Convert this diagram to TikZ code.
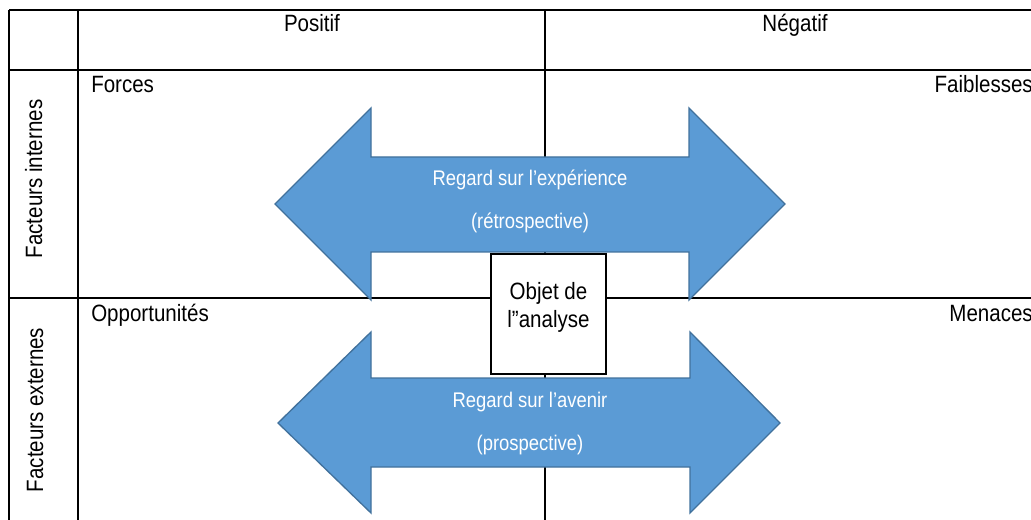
\documentclass[tikz,border=0pt]{standalone}
\usepackage{fontspec}
\setmainfont{Liberation Sans}[FakeStretch=0.87]
\definecolor{arrowfill}{HTML}{5B9BD5}
\definecolor{arrowline}{HTML}{41719C}
\begin{document}
\begin{tikzpicture}[x=0.75pt,y=-0.75pt,
  grid/.style={line width=0.8pt,black},
  bigarrow/.style={fill=arrowfill,draw=arrowline,line width=1pt,line join=miter},
  lbl/.style={font=\fontsize{17.7}{21}\selectfont,inner sep=0pt},
  alabel/.style={font=\fontsize{15.9}{19}\selectfont,text=white,inner sep=0pt,anchor=base},
  objbox/.style={draw=black,fill=white,line width=0.9pt,minimum width=115*0.75pt,minimum height=120*0.75pt,inner sep=0pt}]
\useasboundingbox (0,0) rectangle (1031,520);
% table grid
\draw[grid] (9,10) -- (1031,10);
\draw[grid] (9,70) -- (1031,70);
\draw[grid] (9,298) -- (1031,298);
\draw[grid] (9,10) -- (9,520);
\draw[grid] (78,10) -- (78,520);
\draw[grid] (545,10) -- (545,520);
% headers
\node[lbl,anchor=base] (pos) at (312,32) {Positif};
\node[lbl,anchor=base] (neg) at (795,32) {Négatif};
\node[lbl,anchor=base west] (forces) at (91,93) {Forces};
\node[lbl,anchor=base east] (faib) at (1033,93) {Faiblesses};
\node[lbl,anchor=base west] (opp) at (91,321) {Opportunités};
\node[lbl,anchor=base east] (men) at (1033,321) {Menaces};
\node[lbl,anchor=base,rotate=90] (fi) at (42,179) {Facteurs internes};
\node[lbl,anchor=base,rotate=90] (fe) at (43,410) {Facteurs externes};
% arrows
\draw[bigarrow] (275,204) -- (371,108) -- (371,157) -- (689,157) -- (689,108) -- (785,204)
  -- (689,300) -- (689,252) -- (371,252) -- (371,300) -- cycle;
\draw[bigarrow] (278,423) -- (371,332) -- (371,378) -- (690,378) -- (690,332) -- (780,423)
  -- (690,513) -- (690,467) -- (371,467) -- (371,513) -- cycle;
\node[alabel] (a1) at (530,186) {Regard sur l’expérience};
\node[alabel] (a1b) at (530,229) {(rétrospective)};
\node[alabel] (a2) at (530,407) {Regard sur l’avenir};
\node[alabel] (a2b) at (530,450) {(prospective)};
% centre box
\node[objbox] (obj) at (548.5,314) {};
\node[lbl,anchor=base] (obj1) at (548.5,300) {Objet de};
\node[lbl,anchor=base] (obj2) at (548.5,327) {l”analyse};
\end{tikzpicture}
\end{document}
